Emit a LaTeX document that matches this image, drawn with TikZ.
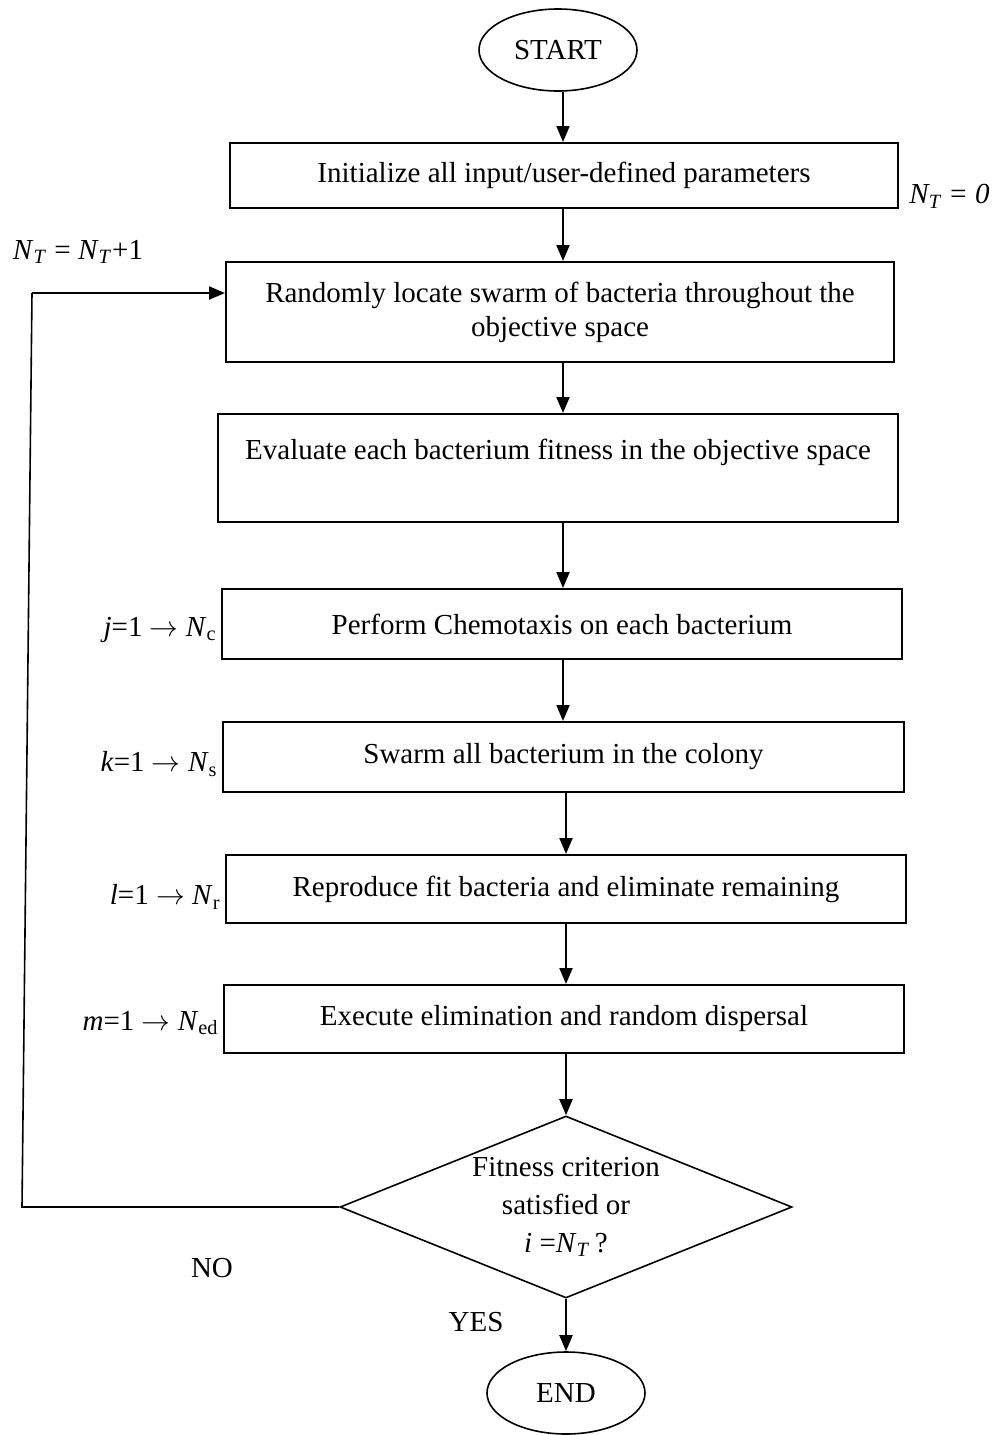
\documentclass[tikz,border=0pt]{standalone}
\usepackage{fontspec}
\setmainfont{Liberation Serif}
\usetikzlibrary{positioning, shapes.geometric, arrows.meta}

\begin{document}
\begin{tikzpicture}[x=0.5pt, y=-0.5pt,
    font=\fontsize{14.5}{17}\selectfont,
    stepbox/.style={draw, line width=1pt, rectangle, inner sep=0pt},
    term/.style={draw, line width=0.8pt, ellipse, inner sep=0pt, minimum width=79pt, minimum height=41pt},
    test/.style={draw, line width=0.8pt, diamond, aspect=2.5, inner sep=0pt, align=center,
        minimum width=226pt, minimum height=91pt, font=\fontsize{14.5}{19}\selectfont},
    arr/.style={line width=1pt, -{Triangle[length=8pt, width=6.5pt]}},
    backline/.style={line width=0.8pt},
    lbl/.style={inner sep=0pt}]
  \useasboundingbox (0,0) rectangle (1002,1435);

  \node[term] (start) at (558,50) {START};
  \node[stepbox, minimum width=334pt, minimum height=32.5pt] (init) at (564,175.5) {Initialize all input/user-defined parameters};
  \node[stepbox, minimum width=334pt, minimum height=50pt, align=center] (locate) at (560,312) {Randomly locate swarm of bacteria throughout the\\objective space};
  \node[stepbox, minimum width=340pt, minimum height=54pt, text height=10pt, text depth=19pt] (eval) at (558,468) {Evaluate each bacterium fitness in the objective space};
  \node[stepbox, minimum width=340pt, minimum height=35pt] (chemo) at (562,624) {Perform Chemotaxis on each bacterium};
  \node[stepbox, minimum width=340.5pt, minimum height=35pt] (swarm) at (563.5,757) {Swarm all bacterium in the colony};
  \node[stepbox, minimum width=340pt, minimum height=34pt] (repro) at (566,889) {Reproduce fit bacteria and eliminate remaining};
  \node[stepbox, minimum width=340pt, minimum height=34pt] (disp) at (564,1019) {Execute elimination and random dispersal};
  \node[test] (check) at (566,1207) {Fitness criterion\\satisfied or\\\textit{i} =\textit{N}\textsubscript{\textit{T}}\,?};
  \node[term] (stop) at (566,1393) {END};

  % loop counters beside the boxes
  \node[lbl, right=5pt of init.east, yshift=-10.5pt] (ntzero) {\textit{N\textsubscript{T} = 0}};
  \node[lbl] (ntinc) at (78,252) {\textit{N}\textsubscript{\textit{T}} = \textit{N}\textsubscript{\textit{T}}+1};
  \node[lbl, left=2pt of chemo.west, yshift=-3pt] (jlbl) {\textit{j}=1 $\rightarrow$ \textit{N}\textsubscript{c}};
  \node[lbl, left=2pt of swarm.west, yshift=-3.5pt] (klbl) {\textit{k}=1 $\rightarrow$ \textit{N}\textsubscript{s}};
  \node[lbl, left=2pt of repro.west, yshift=-4pt] (llbl) {\textit{l}=1 $\rightarrow$ \textit{N}\textsubscript{r}};
  \node[lbl, left=2pt of disp.west, yshift=-2pt] (mlbl) {\textit{m}=1 $\rightarrow$ \textit{N}\textsubscript{ed}};
  \node[lbl] (no) at (212,1268) {NO};
  \node[lbl] (yes) at (476,1322) {YES};

  \coordinate (axis) at (563,0);
  \draw[arr] (start.south -| axis) -- (init.north -| axis);
  \draw[arr] (init.south -| axis) -- (locate.north -| axis);
  \draw[arr] (locate.south -| axis) -- (eval.north -| axis);
  \draw[arr] (eval.south -| axis) -- (chemo.north -| axis);
  \draw[arr] (chemo.south -| axis) -- (swarm.north -| axis);
  \draw[arr] (swarm.south -| repro.north) -- (repro.north);
  \draw[arr] (repro.south) -- (disp.north -| repro.south);
  \draw[arr] (disp.south -| check.north) -- (check.north);
  \draw[arr] (check.south) -- (stop);

  \coordinate (lowcorner) at (22,1207);
  \coordinate (topcorner) at (32,293);
  \draw[backline] (check.west) -- (lowcorner) -- (topcorner);
  \draw[arr] (topcorner) -- (topcorner -| locate.west);
\end{tikzpicture}
\end{document}
